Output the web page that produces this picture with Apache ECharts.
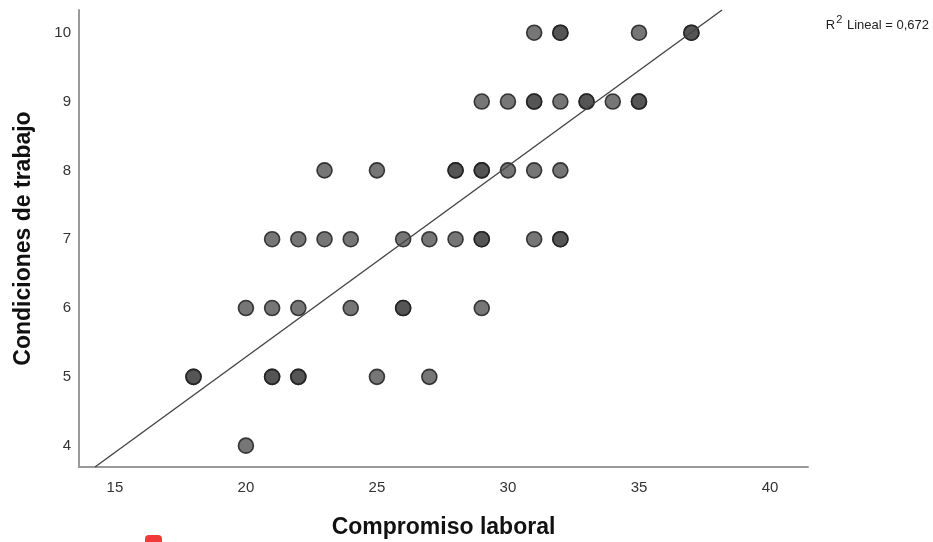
<!DOCTYPE html>
<html>
<head>
<meta charset="utf-8">
<script src="https://cdn.jsdelivr.net/npm/echarts@6/dist/echarts.min.js"></script>
<style>
  html, body { margin: 0; padding: 0; background: #fff; }
  #chart { width: 933px; height: 542px; }
</style>
</head>
<body>
<div id="chart"></div>
<script>
// puntos (x = compromiso, y = condiciones); repetidos = puntos superpuestos
var compromiso = [31, 32, 32, 35, 37, 37,
  29, 30, 31, 31, 32, 33, 33, 34, 35, 35,
  23, 25, 28, 28, 29, 29, 30, 31, 32,
  21, 22, 23, 24, 26, 27, 28, 29, 29, 31, 32, 32,
  20, 21, 22, 24, 26, 26, 29,
  18, 18, 21, 21, 22, 22, 25, 27,
  20];
var condiciones = [10, 10, 10, 10, 10, 10,
  9, 9, 9, 9, 9, 9, 9, 9, 9, 9,
  8, 8, 8, 8, 8, 8, 8, 8, 8,
  7, 7, 7, 7, 7, 7, 7, 7, 7, 7, 7, 7,
  6, 6, 6, 6, 6, 6, 6,
  5, 5, 5, 5, 5, 5, 5, 5,
  4];
// recta de ajuste lineal, extremos
var lineaX = [14.24, 38.17];
var lineaY = [3.69, 10.33];
var xTicks = [15, 20, 25, 30, 35, 40];
var yTicks = [4, 5, 6, 7, 8, 9, 10];
var r2 = '0,672';

var puntos = [];
for (var i = 0; i < compromiso.length; i++) {
  puntos.push([compromiso[i], condiciones[i]]);
}
var recta = [];
for (var i = 0; i < lineaX.length; i++) {
  recta.push([lineaX[i], lineaY[i]]);
}

var chart = echarts.init(document.getElementById('chart'));
chart.setOption({
  animation: false,
  backgroundColor: '#fff',
  grid: { left: 79, top: 10, right: 125, bottom: 75, outerBoundsMode: 'none' },
  xAxis: {
    type: 'value',
    min: 13.63, max: 41.45,
    name: 'Compromiso laboral',
    nameLocation: 'middle',
    nameGap: 49,
    nameTextStyle: { fontFamily: 'Liberation Sans', fontSize: 23, fontWeight: 'bold', color: '#111' },
    axisLine: { lineStyle: { color: '#999', width: 2 } },
    axisTick: { show: false },
    splitLine: { show: false },
    axisLabel: {
      fontFamily: 'Liberation Sans', fontSize: 15, color: '#333', margin: 13,
      customValues: xTicks
    }
  },
  yAxis: {
    type: 'value',
    min: 3.69, max: 10.33,
    name: 'Condiciones de trabajo',
    nameLocation: 'middle',
    nameGap: 44,
    nameTextStyle: { fontFamily: 'Liberation Sans', fontSize: 23, fontWeight: 'bold', color: '#111' },
    axisLine: { show: true, lineStyle: { color: '#999', width: 2 } },
    axisTick: { show: false },
    splitLine: { show: false },
    axisLabel: {
      fontFamily: 'Liberation Sans', fontSize: 15, color: '#333', margin: 8,
      customValues: yTicks
    }
  },
  series: [
    {
      type: 'line',
      data: recta,
      symbol: 'none',
      clip: true,
      lineStyle: { color: '#444', width: 1.4 },
      silent: true,
      z: 3
    },
    {
      type: 'scatter',
      data: puntos,
      symbolSize: 15,
      itemStyle: { color: 'rgba(75,75,75,0.76)', borderColor: 'rgba(30,30,30,0.85)', borderWidth: 1.6, opacity: 1 },
      z: 2
    }
  ],
  graphic: [
    {
      type: 'text',
      right: 4, top: 14,
      style: {
        text: '{n|R}{s|2}{n| Lineal = ' + r2 + '}',
        rich: {
          n: { fontFamily: 'Liberation Sans', fontSize: 13, fill: '#222', verticalAlign: 'bottom', lineHeight: 18 },
          s: { fontFamily: 'Liberation Sans', fontSize: 11, fill: '#222', verticalAlign: 'top', padding: [0, 1, 4, 1], lineHeight: 18 }
        }
      }
    },
    {
      type: 'rect',
      left: 145, top: 535,
      shape: { width: 17, height: 12, r: 4 },
      style: { fill: '#f03a3a' }
    }
  ]
});
</script>
</body>
</html>
